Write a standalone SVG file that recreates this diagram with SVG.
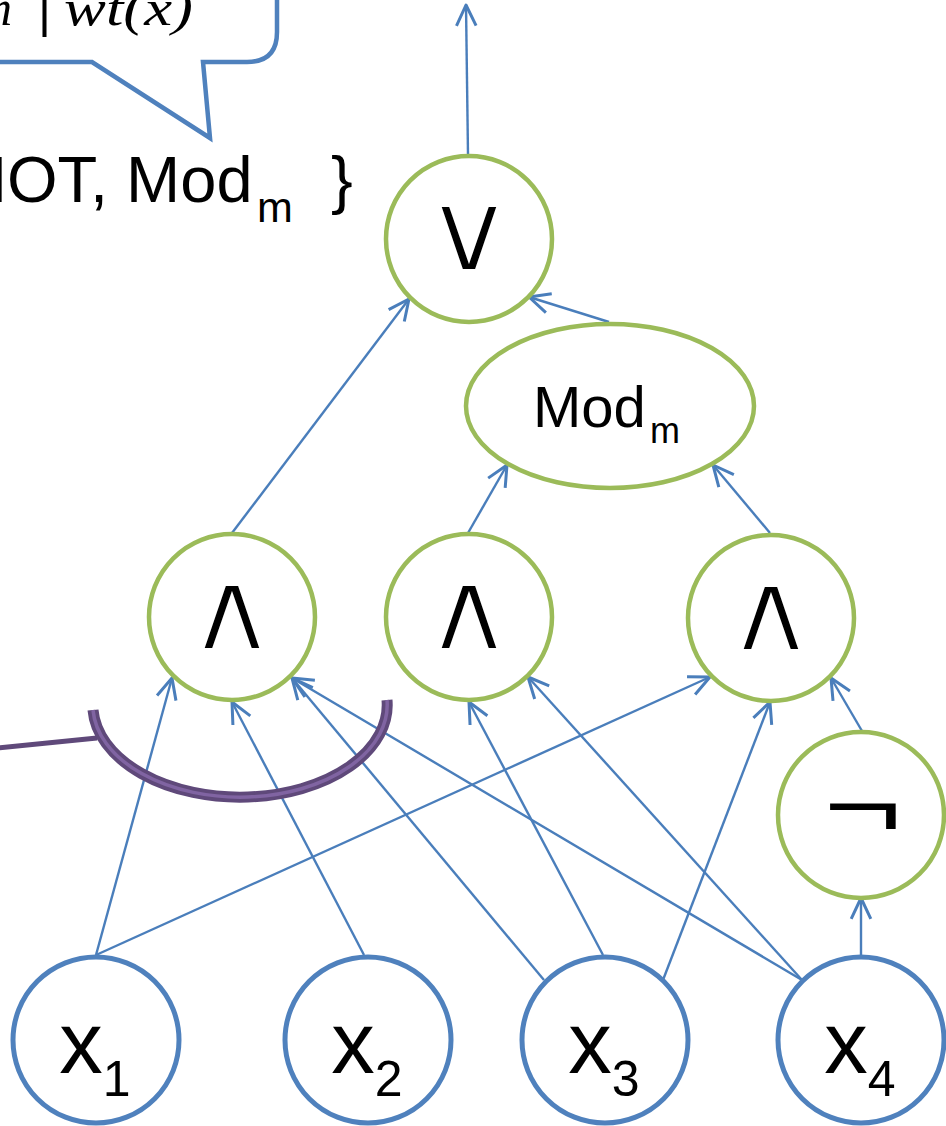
<svg xmlns="http://www.w3.org/2000/svg" width="946" height="1126" viewBox="0 0 946 1126">
  <style>
    .gate { fill: #FFFFFF; stroke: #9BBB59; stroke-width: 4.5; }
    .input { fill: #FFFFFF; stroke: #4F81BD; stroke-width: 5; }
    .edge { fill: none; stroke: #4A7EBB; stroke-width: 2.4; marker-end: url(#arrow); }
    .lbl { font-family: "Liberation Sans", Arial, sans-serif; fill: #000000; }
    /* logic symbols: DejaVu glyphs, thinned with a white outline */
    .sym { font-family: "DejaVu Sans", sans-serif; font-size: 114px; fill: #000000; stroke: #FFFFFF; stroke-width: 4; text-anchor: middle; }
    .math { font-family: "Liberation Serif", "Times New Roman", serif; font-style: italic; fill: #000000; }
  </style>
  <defs>
    <marker id="arrow" markerUnits="userSpaceOnUse" markerWidth="30" markerHeight="30" viewBox="-22 -12 26 24" refX="0" refY="0" orient="auto">
      <path d="M -18 -8.5 L 0 0 L -18 8.5" fill="none" stroke="#4A7EBB" stroke-width="2.6" stroke-linejoin="round" stroke-linecap="butt"/>
    </marker>
  </defs>

  <rect width="946" height="1126" fill="#FFFFFF"/>

  <!-- speech callout holding the divisibility condition -->
  <g id="callout">
    <path d="M -10 62 L 92 62 L 210 138 L 203 62 L 247 62 Q 277 62 277 32 L 277 -10" fill="#FFFFFF" stroke="#4F81BD" stroke-width="4.5" stroke-linejoin="miter"/>
    <text class="math" x="-24" y="25" font-size="50">m</text>
    <text x="38" y="27" font-family="Liberation Sans, sans-serif" font-size="50">|</text>
    <text class="math" x="64" y="25" font-size="50" textLength="129" lengthAdjust="spacingAndGlyphs">wt(x)</text>
  </g>

  <!-- gate basis -->
  <g id="basis">
    <text class="lbl" x="-40" y="202" font-size="65">NOT, Mod</text>
    <text class="lbl" x="257" y="222" font-size="43">m</text>
    <text class="lbl" x="331" y="202" font-size="65">}</text>
  </g>

  <!-- connectors -->
  <g id="connectors">
    <line class="edge" x1="468" y1="155" x2="466" y2="5"/>
    <line class="edge" x1="232" y1="533" x2="409" y2="299"/>
    <line class="edge" x1="609" y1="322" x2="529" y2="297"/>
    <line class="edge" x1="468" y1="533" x2="507" y2="465"/>
    <line class="edge" x1="770" y1="533" x2="713" y2="465"/>
    <line class="edge" x1="96" y1="955" x2="172" y2="678"/>
    <line class="edge" x1="96" y1="955" x2="710" y2="677"/>
    <line class="edge" x1="364" y1="955" x2="232" y2="702"/>
    <line class="edge" x1="544" y1="980" x2="292" y2="678"/>
    <line class="edge" x1="802" y1="980" x2="292" y2="678"/>
    <line class="edge" x1="603" y1="955" x2="469" y2="702"/>
    <line class="edge" x1="802" y1="980" x2="528" y2="677"/>
    <line class="edge" x1="663" y1="980" x2="770" y2="702"/>
    <line class="edge" x1="862" y1="731" x2="831" y2="678"/>
    <line class="edge" x1="861" y1="955" x2="861" y2="898"/>
  </g>

  <!-- purple bracket grouping the inputs of the first AND -->
  <g id="bracket">
    <line x1="-2" y1="748" x2="97" y2="738" stroke="#5F497A" stroke-width="5"/>
    <path d="M 93 710 A 147 92 0 0 0 387 700" fill="none" stroke="#5F497A" stroke-width="11"/>
    <path d="M 93 710 A 147 92 0 0 0 387 700" fill="none" stroke="#8064A2" stroke-width="3.5"/>
  </g>

  <!-- gates -->
  <g id="or-gate">
    <circle class="gate" cx="469" cy="239" r="83"/>
    <text class="sym" x="0" y="0" transform="translate(469 271) scale(1.12 1)">∨</text>
  </g>
  <g id="mod-gate">
    <ellipse class="gate" cx="610" cy="406" rx="144" ry="82"/>
    <text class="lbl" x="533" y="427" font-size="58">Mod</text>
    <text class="lbl" x="650" y="443" font-size="36">m</text>
  </g>
  <g id="and-gate-1">
    <circle class="gate" cx="232" cy="617" r="83"/>
    <text class="sym" x="0" y="0" transform="translate(232 650) scale(1.12 1)">∧</text>
  </g>
  <g id="and-gate-2">
    <circle class="gate" cx="469" cy="617" r="83"/>
    <text class="sym" x="0" y="0" transform="translate(469 650) scale(1.12 1)">∧</text>
  </g>
  <g id="and-gate-3">
    <circle class="gate" cx="771" cy="618" r="83"/>
    <text class="sym" x="0" y="0" transform="translate(771 651) scale(1.12 1)">∧</text>
  </g>
  <g id="not-gate">
    <circle class="gate" cx="861" cy="815" r="83"/>
    <text x="0" y="837" font-family="Liberation Sans, sans-serif" font-size="90" text-anchor="middle" transform="translate(863 0) scale(1.5 1)">¬</text>
  </g>

  <!-- inputs -->
  <g id="input-x1">
    <circle class="input" cx="96" cy="1040" r="83"/>
    <text class="lbl" x="95" y="1073" font-size="87" text-anchor="middle">x<tspan dy="23" font-size="50">1</tspan></text>
  </g>
  <g id="input-x2">
    <circle class="input" cx="368" cy="1040" r="83"/>
    <text class="lbl" x="367" y="1073" font-size="87" text-anchor="middle">x<tspan dy="23" font-size="50">2</tspan></text>
  </g>
  <g id="input-x3">
    <circle class="input" cx="605" cy="1040" r="83"/>
    <text class="lbl" x="604" y="1073" font-size="87" text-anchor="middle">x<tspan dy="23" font-size="50">3</tspan></text>
  </g>
  <g id="input-x4">
    <circle class="input" cx="861" cy="1040" r="83"/>
    <text class="lbl" x="860" y="1073" font-size="87" text-anchor="middle">x<tspan dy="23" font-size="50">4</tspan></text>
  </g>
</svg>
